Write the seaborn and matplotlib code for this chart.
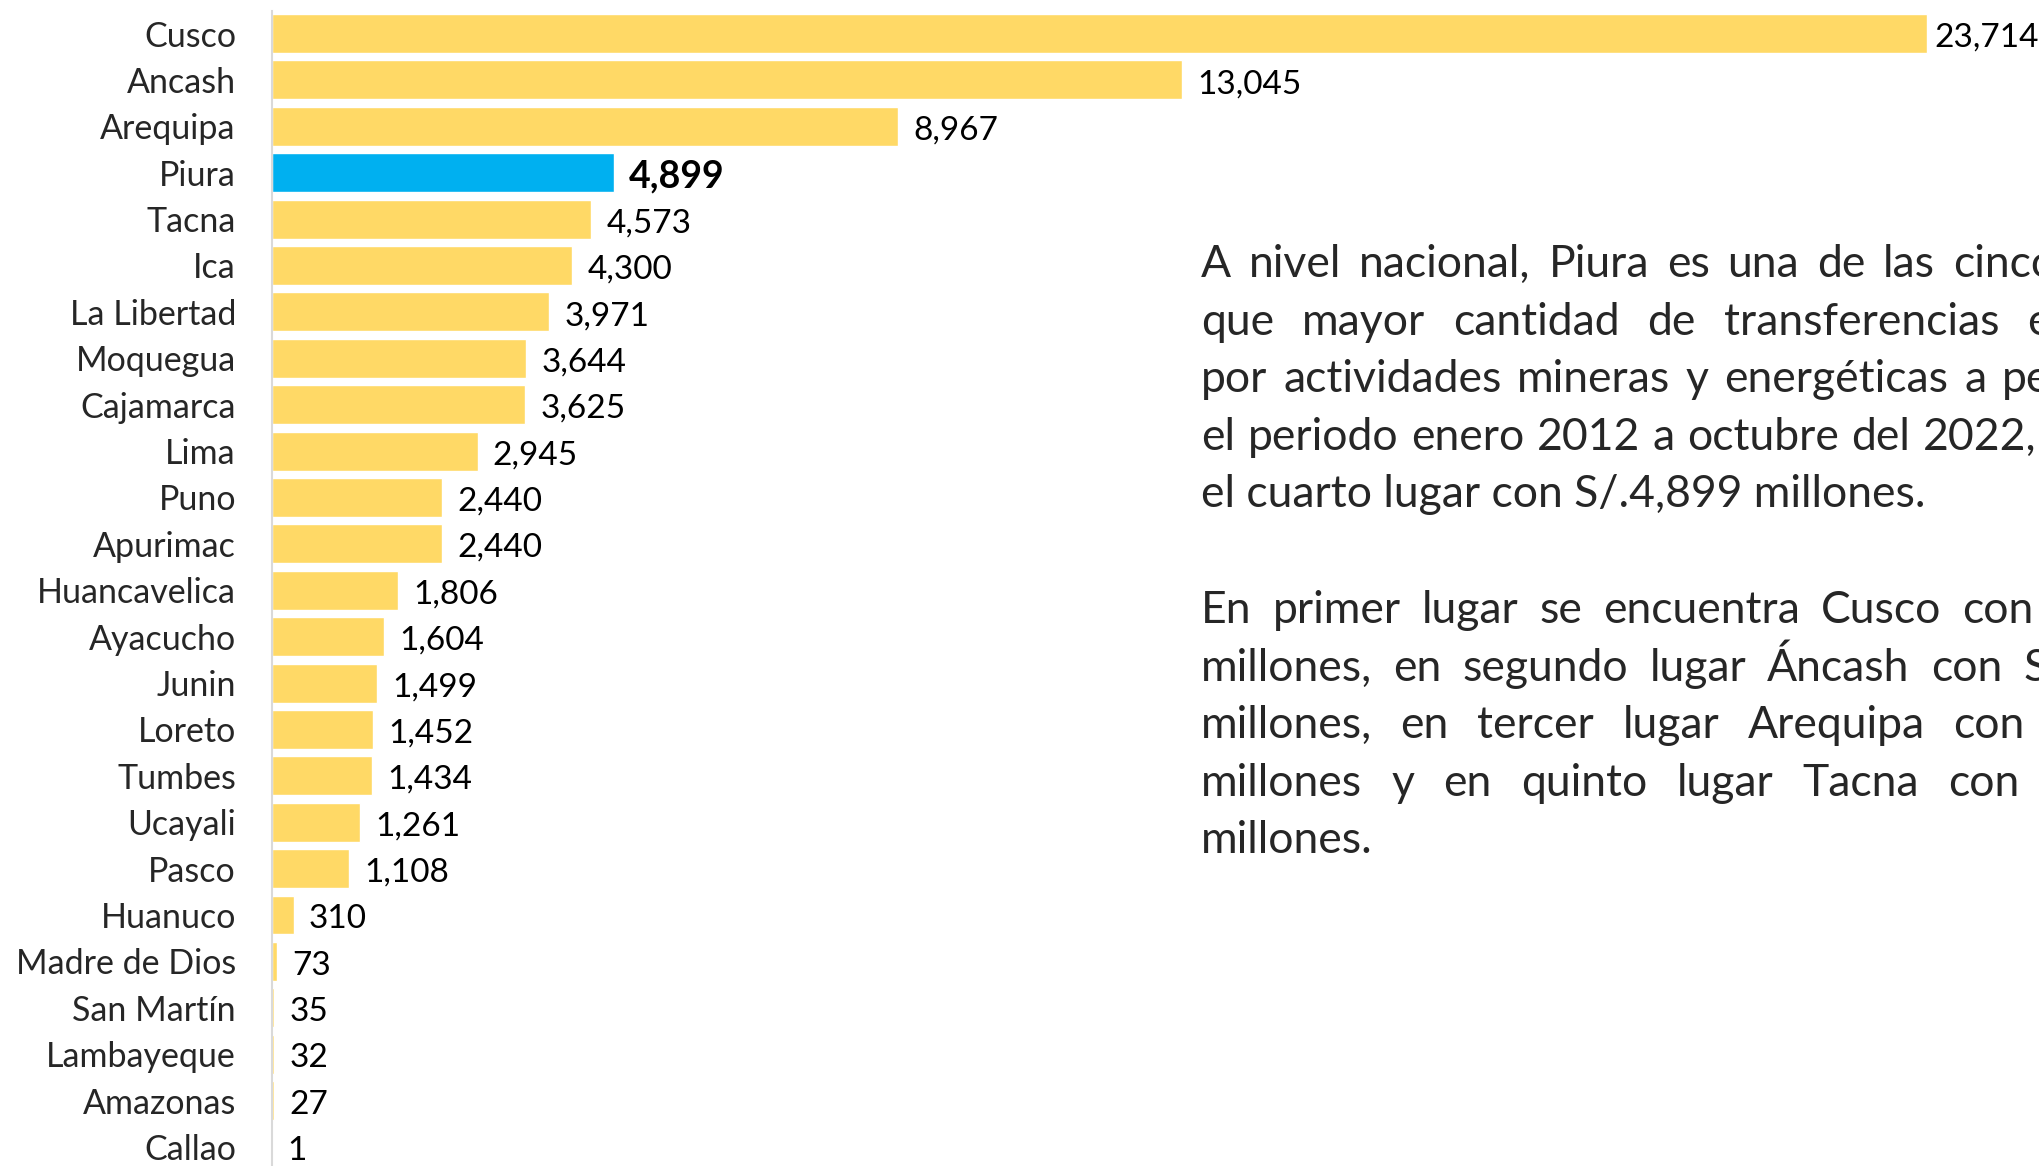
import matplotlib
matplotlib.use('Agg')
import matplotlib.pyplot as plt
import seaborn as sns
import pandas as pd

regions = ['Cusco', 'Ancash', 'Arequipa', 'Piura', 'Tacna', 'Ica', 'La Libertad',
           'Moquegua', 'Cajamarca', 'Lima', 'Puno', 'Apurimac', 'Huancavelica',
           'Ayacucho', 'Junin', 'Loreto', 'Tumbes', 'Ucayali', 'Pasco', 'Huanuco',
           'Madre de Dios', 'San Martín', 'Lambayeque', 'Amazonas', 'Callao']
values = [23714, 13045, 8967, 4899, 4573, 4300, 3971, 3644, 3625, 2945, 2440,
          2440, 1806, 1604, 1499, 1452, 1434, 1261, 1108, 310, 73, 35, 32, 27, 1]
highlight = 'Piura'

para1 = ['A nivel nacional, Piura es una de las cinco',
         'que mayor cantidad de transferencias económicas',
         'por actividades mineras y energéticas a percibido',
         'el periodo enero 2012 a octubre del 2022,',
         'el cuarto lugar con S/.4,899 millones.']
para2 = ['En primer lugar se encuentra Cusco con',
         'millones, en segundo lugar Áncash con S/.13,045',
         'millones, en tercer lugar Arequipa con',
         'millones y en quinto lugar Tacna con',
         'millones.']

W, H = 2040, 1166
sns.set_style('white')
plt.rcParams['font.family'] = ['Lato', 'DejaVu Sans']

df = pd.DataFrame({'region': regions, 'valor': values})
colors = {r: ('#00B0F0' if r == highlight else '#FFD966') for r in regions}

fig = plt.figure(figsize=(W / 100, H / 100), dpi=100)
ax = fig.add_axes([272 / W, 0, 1 - 272 / W, (H - 11) / H])
sns.barplot(data=df, x='valor', y='region', hue='region', palette=colors,
            width=0.84, saturation=1, legend=False, ax=ax)
ax.set_xlim(0, 25333)
ax.set_ylim(24.41, -0.485)
ax.set_xlabel('')
ax.set_ylabel('')
ax.set_xticks([])
ax.tick_params(axis='y', length=0, pad=26, labelsize=24.5)
for s in ['top', 'right', 'bottom']:
    ax.spines[s].set_visible(False)
ax.spines['left'].set_color('#d9d9d9')
ax.spines['left'].set_linewidth(1.5)

for cont, r, v in zip(ax.containers, regions, values):
    bold = r == highlight
    pad = 5 if v == max(values) else 11
    anns = ax.bar_label(cont, labels=[f'{v:,}'], padding=pad,
                        fontsize=27 if bold else 24,
                        fontweight='bold' if bold else 'normal', color='black')
    for a in anns:
        a.xyann = (pad, -3)

# justified text block
renderer = fig.canvas.get_renderer()
fs = 32
left = 1201


def width_of(s):
    t = fig.text(0, 0, s, fontsize=fs)
    w = t.get_window_extent(renderer).width
    t.remove()
    return w


def draw_line(line, y, last_start=None):
    if last_start is None:
        fig.text(left / W, 1 - y / H, line, fontsize=fs, va='baseline')
        return
    words = line.split(' ')
    widths = [width_of(w) for w in words]
    gap = (last_start - left - sum(widths[:-1])) / (len(words) - 1)
    x = left
    for w, wd in zip(words, widths):
        fig.text(x / W, 1 - y / H, w, fontsize=fs, va='baseline')
        x += wd + gap


starts1 = [1953, 2027, 2002, 1923, None]
starts2 = [1962, 2023, 1953, 1948, None]
for i, (line, st) in enumerate(zip(para1, starts1)):
    draw_line(line, 277 + 57.6 * i, st)
for i, (line, st) in enumerate(zip(para2, starts2)):
    draw_line(line, 623 + 57.6 * i, st)

fig.savefig('out.png', dpi=100)
